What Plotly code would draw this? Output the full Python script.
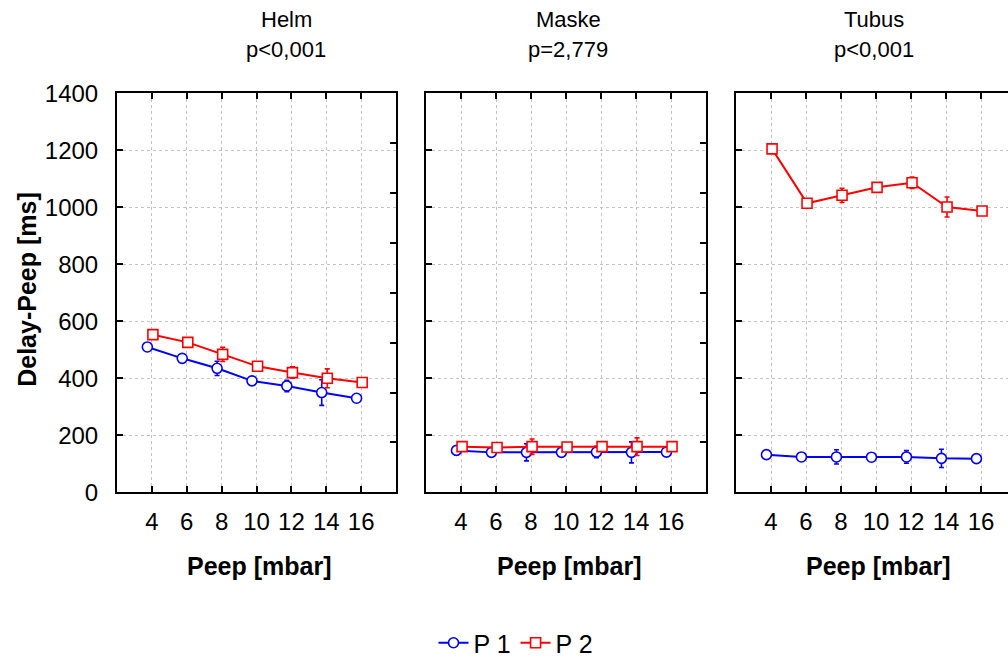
import plotly.graph_objects as go

# ---------------- data ----------------
peep = [4, 6, 8, 10, 12, 14, 16]
panel_names = ["Helm", "Maske", "Tubus"]
panel_p = ["p&lt;0,001", "p=2,779", "p&lt;0,001"]

helm_p1 = [510, 470, 435, 391, 373, 350, 330]
helm_p1_err = [10, 10, 25, 10, 20, 45, 10]
helm_p2 = [553, 526, 484, 442, 420, 400, 385]
helm_p2_err = [10, 10, 25, 10, 20, 33, 10]

maske_p1 = [147, 140, 140, 140, 141, 140, 141]
maske_p1_err = [15, 10, 30, 10, 20, 37, 10]
maske_p2 = [160, 157, 160, 159, 160, 160, 160]
maske_p2_err = [10, 10, 27, 10, 15, 31, 10]

tubus_p1 = [132, 124, 124, 123, 124, 119, 118]
tubus_p1_err = [10, 10, 25, 10, 22, 32, 10]
tubus_p2 = [1205, 1014, 1042, 1070, 1086, 1001, 987]
tubus_p2_err = [10, 10, 25, 15, 20, 35, 10]

series_p1 = [helm_p1, maske_p1, tubus_p1]
series_p1_err = [helm_p1_err, maske_p1_err, tubus_p1_err]
series_p2 = [helm_p2, maske_p2, tubus_p2]
series_p2_err = [helm_p2_err, maske_p2_err, tubus_p2_err]

# ---------------- layout helpers ----------------
W, H = 1008, 666
def px(x):
    return x / W
def py(y):
    return 1 - y / H

FONT = "Liberation Sans, Arial, sans-serif"
BLUE = "#0000FF"
RED = "#FF0000"
GRID = "#c4c4c4"

panel_px = [(117, 396), (426, 706), (736, 1008)]
x_ranges = [[2, 18], [2, 18], [2, 2 + 272 / 17.5]]
header_cx = [286, 568, 874]
xtitle_cx = [259, 569, 878]
y_top, y_bot = 94, 496

fig = go.Figure()

for i in range(3):
    xa = "x" if i == 0 else f"x{i+1}"
    ya = "y" if i == 0 else f"y{i+1}"
    fig.add_trace(go.Scatter(
        x=[p - 0.26 for p in peep], y=series_p1[i], xaxis=xa, yaxis=ya,
        mode="lines+markers", name="P 1", legendgroup="p1", showlegend=(i == 0),
        line=dict(color=BLUE, width=2),
        marker=dict(symbol="circle", size=10, color="white", line=dict(color=BLUE, width=1.6)),
        error_y=dict(type="data", array=series_p1_err[i], color=BLUE, thickness=1.6, width=2.5),
    ))
    fig.add_trace(go.Scatter(
        x=[p + 0.06 for p in peep], y=series_p2[i], xaxis=xa, yaxis=ya,
        mode="lines+markers", name="P 2", legendgroup="p2", showlegend=(i == 0),
        line=dict(color=RED, width=2),
        marker=dict(symbol="square", size=10, color="white", line=dict(color=RED, width=1.6)),
        error_y=dict(type="data", array=series_p2_err[i], color=RED, thickness=1.6, width=2.5),
    ))

layout = dict(
    width=W, height=H,
    margin=dict(l=0, r=0, t=0, b=0),
    paper_bgcolor="white", plot_bgcolor="white",
    font=dict(family=FONT, size=24, color="black"),
    showlegend=True,
    legend=dict(orientation="h", x=px(516), y=py(648), xanchor="center", yanchor="middle",
                font=dict(size=25, family=FONT), itemwidth=30, tracegroupgap=0,
                bgcolor="rgba(0,0,0,0)"),
)

for i in range(3):
    sfx = "" if i == 0 else str(i + 1)
    x0, x1 = panel_px[i]
    layout[f"xaxis{sfx}"] = dict(
        domain=[px(x0), min(1.0, px(x1))], range=x_ranges[i], anchor=f"y{sfx}",
        tickmode="array", tickvals=peep, ticktext=[str(p) for p in peep],
        ticks="inside", ticklen=6, tickwidth=1.5, tickcolor="black",
        showline=True, linecolor="black", linewidth=2, mirror="ticks",
        showgrid=True, gridcolor=GRID, griddash="3px,3px", gridwidth=1,
        zeroline=False, tickfont=dict(size=24), ticklabelstandoff=7, automargin=False,
    )
    layout[f"yaxis{sfx}"] = dict(
        domain=[py(y_bot), py(y_top)], range=[0, 1400], anchor=f"x{sfx}",
        tickmode="linear", tick0=0, dtick=200,
        ticks="inside", ticklen=6, tickwidth=1.5, tickcolor="black",
        showline=True, linecolor="black", linewidth=2, mirror=(i < 2),
        showgrid=True, gridcolor=GRID, griddash="3px,3px", gridwidth=1,
        zeroline=False, showticklabels=(i == 0), tickfont=dict(size=24),
        ticklabelstandoff=12, automargin=False,
    )

# right-side inner ticks (secondary scale) on panels 1 and 2
for j, i in enumerate([0, 1]):
    sfx = str(4 + j)
    xsfx = "" if i == 0 else str(i + 1)
    layout[f"yaxis{sfx}"] = dict(
        domain=[py(y_bot), py(y_top)], range=[0, 8], overlaying="y" if i == 0 else f"y{i+1}",
        anchor=f"x{xsfx}", side="right", tickmode="linear", tick0=0, dtick=1,
        ticks="inside", ticklen=6, tickwidth=1.5, tickcolor="black",
        showticklabels=False, showgrid=False, zeroline=False, showline=False,
    )
fig.update_layout(**layout)
for j, i in enumerate([0, 1]):
    xa = "x" if i == 0 else f"x{i+1}"
    fig.add_trace(go.Scatter(x=[None], y=[None], xaxis=xa, yaxis=f"y{4+j}",
                             showlegend=False, hoverinfo="skip"))

annotations = []
for i in range(3):
    annotations.append(dict(text=panel_names[i], x=px(header_cx[i]), y=py(20), xref="paper", yref="paper",
                            showarrow=False, xanchor="center", yanchor="middle", font=dict(size=22)))
    annotations.append(dict(text=panel_p[i], x=px(header_cx[i]), y=py(50), xref="paper", yref="paper",
                            showarrow=False, xanchor="center", yanchor="middle", font=dict(size=22)))
    annotations.append(dict(text="<b>Peep [mbar]</b>", x=px(xtitle_cx[i]), y=py(570), xref="paper", yref="paper",
                            showarrow=False, xanchor="center", yanchor="middle", font=dict(size=25)))
annotations.append(dict(text="<b>Delay-Peep [ms]</b>", x=px(27), y=py(292), xref="paper", yref="paper",
                        showarrow=False, xanchor="center", yanchor="middle", textangle=-90, font=dict(size=25)))
fig.update_layout(annotations=annotations)

fig.write_html("out.html")
